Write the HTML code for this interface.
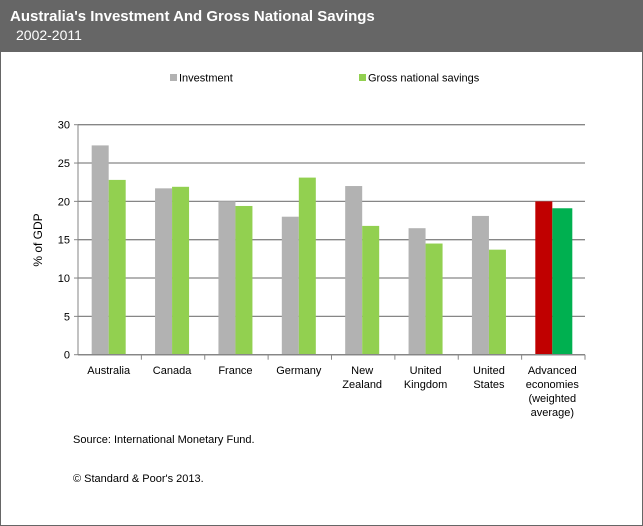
<!DOCTYPE html>
<html><head><meta charset="utf-8"><style>
body{margin:0;width:643px;height:526px;background:#fff;font-family:"Liberation Sans",sans-serif;overflow:hidden}
#frame{position:absolute;left:0;top:0;width:641px;height:524px;border:1px solid #666;}
#hdr{position:absolute;left:0;top:0;width:643px;height:52px;background:#666;color:#fff}
</style></head><body>
<div id="frame"></div>
<div id="hdr">
<div style="position:absolute;left:10px;top:8px;font-size:15px;font-weight:bold">Australia's Investment And Gross National Savings</div>
<div style="position:absolute;left:16px;top:27px;font-size:14px">2002-2011</div>
</div>
<svg id="chart" width="643" height="526" style="position:absolute;left:0;top:0"></svg>
<div style="position:absolute;left:73px;top:434px;font-size:11px">Source: International Monetary Fund.</div>
<div style="position:absolute;left:73px;top:473px;font-size:11px">© Standard &amp; Poor's 2013.</div>
<script>
const categories=[["Australia"],["Canada"],["France"],["Germany"],["New","Zealand"],["United","Kingdom"],["United","States"],["Advanced","economies","(weighted","average)"]];
const investment=[27.3,21.7,20.0,18.0,22.0,16.5,18.1,20.0];
const savings=[22.8,21.9,19.4,23.1,16.8,14.5,13.7,19.1];
const yTicks=[0,5,10,15,20,25,30];
const NS="http://www.w3.org/2000/svg";
const svg=document.getElementById('chart');
const x0=78,x1=550,y0=354.7,yTop=124.7;
function y(v){return y0-(v/30)*(y0-yTop);}
function mk(t,a){const e=document.createElementNS(NS,t);for(const k in a)e.setAttribute(k,a[k]);svg.appendChild(e);return e;}
yTicks.forEach(t=>{
 const l=mk('line',{x1:x0,x2:x1+35,y1:y(t),y2:y(t),stroke:'#868686','stroke-width':1.3});
 
 
 const tk=mk('line',{x1:x0-4,x2:x0,y1:y(t),y2:y(t),stroke:'#868686'});
 
 
 const tx=mk('text',{x:x0-8,y:y(t)+4,'text-anchor':'end','font-size':11});
 tx.textContent=t;
 
 
});
const ax=mk('line',{x1:x0,x2:x0,y1:yTop,y2:y0,stroke:'#868686'});


const cw2=(x1+35-x0)/categories.length;
categories.forEach((c,i)=>{
 const cx=x0+cw2*i+cw2/2-1;
 const bw=17;
 const a=mk('rect',{x:cx-bw,y:y(investment[i]),width:bw,height:y0-y(investment[i]),fill:i==7?'#c00000':'#b2b2b2'});
 
 
 const b=mk('rect',{x:cx,y:y(savings[i]),width:bw+(i==7?3:0),height:y0-y(savings[i]),fill:i==7?'#00b050':'#92d050'});
 
 
 const tk=mk('line',{x1:x0+cw2*(i+1),x2:x0+cw2*(i+1),y1:y0,y2:y0+5,stroke:'#868686'});
 
 
 c.forEach((ln,j)=>{
  const t=mk('text',{x:cx,y:374+j*14,'text-anchor':'middle','font-size':11});
  t.textContent=ln;
  
  
 });
});
const bx=mk('line',{x1:x0,x2:x1+35,y1:y0,y2:y0,stroke:'#868686','stroke-width':1.3});


const yt=mk('text',{x:0,y:0,'text-anchor':'middle','font-size':12,transform:'translate(42,240) rotate(-90)'});
yt.textContent='% of GDP';


[[170,'#b2b2b2','Investment'],[359,'#92d050','Gross national savings']].forEach(([lx,col,txt])=>{
 const r=mk('rect',{x:lx,y:74,width:7,height:7,fill:col});
 
 
 const t=mk('text',{x:lx+9,y:81.5,'font-size':11});
 t.textContent=txt;
 
 
});
</script>
</body></html>
